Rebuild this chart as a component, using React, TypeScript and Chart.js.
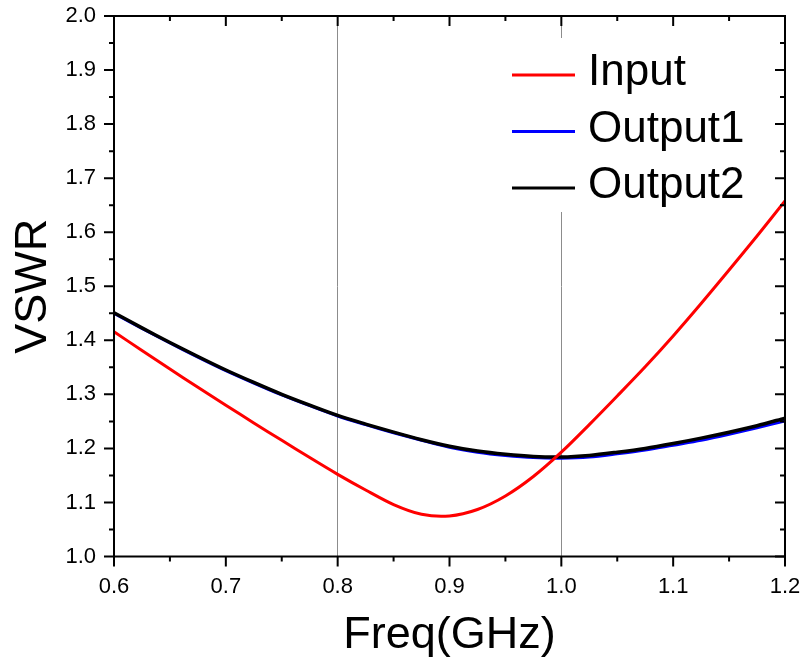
import React, { useEffect, useRef } from 'react';
import { Chart, registerables } from 'chart.js';

Chart.register(...registerables);

const FONT = '"Liberation Sans", Arial, sans-serif';

const freq = [
  0.6, 0.625, 0.65, 0.675, 0.7, 0.725, 0.75, 0.775, 0.8, 0.825, 0.85, 0.875, 0.9,
  0.925, 0.95, 0.975, 1.0, 1.025, 1.05, 1.075, 1.1, 1.125, 1.15, 1.175, 1.2,
];

const inputVSWR = [
  1.416, 1.381, 1.347, 1.313, 1.28, 1.247, 1.215, 1.183, 1.152, 1.123, 1.096, 1.078, 1.075,
  1.087, 1.112, 1.148, 1.193, 1.244, 1.297, 1.351, 1.408, 1.468, 1.53, 1.593, 1.658,
];

const output1VSWR = [
  1.45, 1.422, 1.395, 1.369, 1.344, 1.321, 1.299, 1.279, 1.26, 1.244, 1.229, 1.215, 1.202,
  1.193, 1.187, 1.183, 1.182, 1.184, 1.19, 1.197, 1.206, 1.215, 1.226, 1.238, 1.251,
];

const output2VSWR = [
  1.451, 1.423, 1.396, 1.37, 1.345, 1.322, 1.3, 1.28, 1.261, 1.245, 1.23, 1.216, 1.204,
  1.195, 1.189, 1.185, 1.184, 1.187, 1.193, 1.2, 1.209, 1.219, 1.23, 1.242, 1.256,
];

const seriesLabels = ['Input', 'Output1', 'Output2'];
const seriesColors = ['#ff0000', '#0000ff', '#000000'];

const xTicks = [0.6, 0.7, 0.8, 0.9, 1.0, 1.1, 1.2];
const yTicks = [1.0, 1.1, 1.2, 1.3, 1.4, 1.5, 1.6, 1.7, 1.8, 1.9, 2.0];
const xGridValues = [0.8, 1.0];

const mids = (arr: number[]) => arr.slice(1).map((v, i) => (v + arr[i]) / 2);

const framePlugin = {
  id: 'frameAndLegend',
  afterDraw(chart: any) {
    const ctx = chart.ctx as CanvasRenderingContext2D;
    const area = chart.chartArea;
    const xs = chart.scales.x;
    const ys = chart.scales.y;
    ctx.save();

    // legend (inside plot, white background)
    ctx.fillStyle = '#ffffff';
    ctx.fillRect(503, 38, 262, 174);
    const datasets = chart.data.datasets;
    ctx.font = `44px ${FONT}`;
    ctx.textAlign = 'left';
    ctx.textBaseline = 'alphabetic';
    datasets.forEach((ds: any, i: number) => {
      const baseY = 85 + i * 56.5;
      ctx.strokeStyle = ds.borderColor;
      ctx.lineWidth = 3;
      ctx.beginPath();
      ctx.moveTo(512, baseY - 10);
      ctx.lineTo(575, baseY - 10);
      ctx.stroke();
      ctx.fillStyle = '#000';
      ctx.fillText(ds.label, 588, baseY);
    });

    // frame
    ctx.strokeStyle = '#000';
    ctx.lineWidth = 2;
    ctx.strokeRect(area.left, area.top, area.right - area.left, area.bottom - area.top);

    const major = 10;
    const minor = 5;
    ctx.beginPath();
    xTicks.forEach((v) => {
      const px = xs.getPixelForValue(v);
      ctx.moveTo(px, area.bottom);
      ctx.lineTo(px, area.bottom + major);
      ctx.moveTo(px, area.top);
      ctx.lineTo(px, area.top + major);
    });
    mids(xTicks).forEach((v) => {
      const px = xs.getPixelForValue(v);
      ctx.moveTo(px, area.bottom);
      ctx.lineTo(px, area.bottom + minor);
      ctx.moveTo(px, area.top);
      ctx.lineTo(px, area.top + minor);
    });
    yTicks.forEach((v) => {
      const py = ys.getPixelForValue(v);
      ctx.moveTo(area.left, py);
      ctx.lineTo(area.left - major, py);
      ctx.moveTo(area.right, py);
      ctx.lineTo(area.right - major, py);
    });
    mids(yTicks).forEach((v) => {
      const py = ys.getPixelForValue(v);
      ctx.moveTo(area.left, py);
      ctx.lineTo(area.left - minor, py);
      ctx.moveTo(area.right, py);
      ctx.lineTo(area.right - minor, py);
    });
    ctx.stroke();
    ctx.restore();
  },
};

export default function App() {
  const canvasRef = useRef<HTMLCanvasElement | null>(null);

  useEffect(() => {
    if (!canvasRef.current) return;
    const mk = (vals: number[]) => freq.map((f, i) => ({ x: f, y: vals[i] }));
    const common = { pointRadius: 0, tension: 0.3, fill: false };
    const chart = new Chart(canvasRef.current, {
      type: 'line',
      data: {
        datasets: [
          { label: seriesLabels[0], data: mk(inputVSWR), borderColor: seriesColors[0], borderWidth: 3, order: 0, ...common },
          { label: seriesLabels[1], data: mk(output1VSWR), borderColor: seriesColors[1], borderWidth: 3, order: 2, ...common },
          { label: seriesLabels[2], data: mk(output2VSWR), borderColor: seriesColors[2], borderWidth: 3.5, order: 1, ...common },
        ],
      },
      options: {
        responsive: false,
        animation: false,
        layout: { padding: { left: 0, top: 16, right: 17, bottom: 0 } },
        plugins: { legend: { display: false }, tooltip: { enabled: false } },
        scales: {
          x: {
            type: 'linear',
            position: 'bottom',
            min: 0.6,
            max: 1.2,
            afterBuildTicks: (s: any) => {
              s.ticks = xTicks.map((v) => ({ value: v }));
            },
            afterFit: (s: any) => {
              s.height = 109.5;
              s.paddingLeft = 0;
              s.paddingRight = 0;
            },
            ticks: {
              callback: (v: any) => Number(v).toFixed(1),
              font: { family: FONT, size: 22 },
              color: '#000',
              padding: 17,
              maxRotation: 0,
              autoSkip: false,
            },
            grid: {
              drawTicks: false,
              lineWidth: 1,
              color: (c: any) =>
                c.tick && xGridValues.some((g) => Math.abs(g - c.tick.value) < 1e-6) ? '#8c8c8c' : 'rgba(0,0,0,0)',
            },
            border: { display: false },
            title: {
              display: true,
              text: 'Freq(GHz)',
              font: { family: FONT, size: 45 },
              color: '#000',
              padding: { top: 0, bottom: 3 },
            },
          },
          y: {
            type: 'linear',
            position: 'left',
            min: 1.0,
            max: 2.0,
            afterBuildTicks: (s: any) => {
              s.ticks = yTicks.map((v) => ({ value: v }));
            },
            afterFit: (s: any) => {
              s.width = 114;
              s.paddingTop = 0;
              s.paddingBottom = 0;
            },
            ticks: {
              callback: (v: any) => Number(v).toFixed(1),
              font: { family: FONT, size: 22 },
              color: '#000',
              padding: 18,
              autoSkip: false,
            },
            grid: { display: false, drawTicks: false },
            border: { display: false },
            title: {
              display: true,
              text: 'VSWR',
              font: { family: FONT, size: 45 },
              color: '#000',
              padding: { top: 7, bottom: 0 },
            },
          },
        },
      },
      plugins: [framePlugin],
    });
    return () => chart.destroy();
  }, []);

  return (
    <div style={{ position: 'absolute', left: 0, top: 0, width: 802, height: 666, background: '#fff' }}>
      <canvas ref={canvasRef} width={802} height={666} style={{ width: 802, height: 666, display: 'block' }} />
    </div>
  );
}
